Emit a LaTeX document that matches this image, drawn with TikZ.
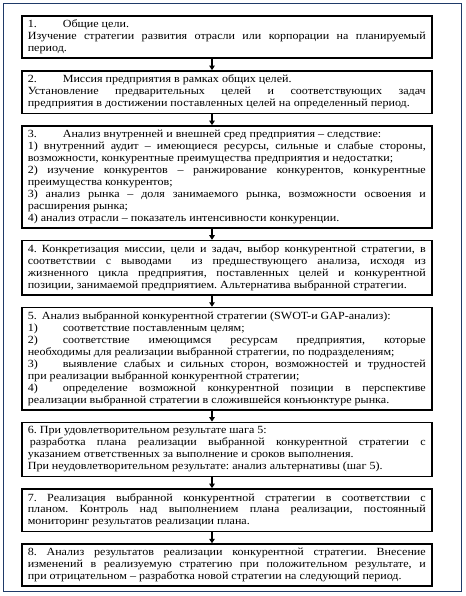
\documentclass[tikz,border=0pt]{standalone}
\usepackage{fontspec}
\setmainfont{Liberation Serif}[FakeStretch=1.1]
\usetikzlibrary{arrows.meta,positioning}
\definecolor{framecol}{HTML}{1F3A68}
\newcommand{\numtab}[1]{\makebox[35bp][l]{#1}}
\tikzset{
  stepbox/.style={draw=black, line width=1.6bp, text width=398bp, align=justify,
    inner xsep=6bp, inner ysep=4.2bp, font=\fontsize{11}{12}\selectfont},
  flowarrow/.style={draw=black, line width=1.2bp, -{Triangle[length=4.5bp,width=5.5bp]}},
  outerframe/.style={draw=framecol, line width=1.8bp}
}
\begin{document}
\frenchspacing
\hyphenpenalty=10000
\exhyphenpenalty=10000
\tolerance=9999
\emergencystretch=20bp
\begin{tikzpicture}[x=1bp,y=-1bp]
\useasboundingbox (0,0) rectangle (466,596);
\draw[outerframe] (3.5,3.5) rectangle (461.5,591.5);
\coordinate (ax) at (212,0);

\node[stepbox, anchor=north west] (b1) at (21,15) {%
\numtab{1.}Общие цели.\par
Изучение стратегии развития отрасли или корпорации на планируемый\linebreak
период.};

\node[stepbox, below=11bp of b1] (b2) {%
\numtab{2.}Миссия предприятия в рамках общих целей.\par
Установление предварительных целей и соответствующих задач\linebreak
предприятия в достижении поставленных целей на определенный период.};

\node[stepbox, below=11bp of b2] (b3) {%
\numtab{3.}Анализ внутренней и внешней сред предприятия – следствие:\par
1) внутренний аудит – имеющиеся ресурсы, сильные и слабые стороны,\linebreak
возможности, конкурентные преимущества предприятия и недостатки;\par
2) изучение конкурентов – ранжирование конкурентов, конкурентные\linebreak
преимущества конкурентов;\par
3) анализ рынка – доля занимаемого рынка, возможности освоения и\linebreak
расширения рынка;\par
4) анализ отрасли – показатель интенсивности конкуренции.};

\node[stepbox, below=11bp of b3] (b4) {%
4.\hspace{5bp}Конкретизация миссии, цели и задач, выбор конкурентной стратегии, в\linebreak
соответствии с выводами\ \ из предшествующего анализа, исходя из\linebreak
жизненного цикла предприятия, поставленных целей и конкурентной\linebreak
позиции, занимаемой предприятием. Альтернатива выбранной стратегии.};

\node[stepbox, below=11bp of b4] (b5) {%
5.\hspace{5bp}Анализ выбранной конкурентной стратегии (SWOT-и GAP-анализ):\par
\numtab{1)}соответствие поставленным целям;\par
\numtab{2)}соответствие имеющимся ресурсам предприятия, которые\linebreak
необходимы для реализации выбранной стратегии, по подразделениям;\par
\numtab{3)}выявление слабых и сильных сторон, возможностей и трудностей\linebreak
при реализации выбранной конкурентной стратегии;\par
\numtab{4)}определение возможной конкурентной позиции в перспективе\linebreak
реализации выбранной стратегии в сложившейся конъюнктуре рынка.};

\node[stepbox, below=11bp of b5] (b6) {%
6. При удовлетворительном результате шага 5:\par
\hspace{2bp}разработка плана реализации выбранной конкурентной стратегии с\linebreak
указанием ответственных за выполнение и сроков выполнения.\par
При неудовлетворительном результате: анализ альтернативы (шаг 5).};

\node[stepbox, below=11bp of b6] (b7) {%
7. Реализация выбранной конкурентной стратегии в соответствии с\linebreak
планом. Контроль над выполнением плана реализации, постоянный\linebreak
мониторинг результатов реализации плана.};

\node[stepbox, below=11bp of b7] (b8) {%
8. Анализ результатов реализации конкурентной стратегии. Внесение\linebreak
изменений в реализуемую стратегию при положительном результате, и\linebreak
при отрицательном – разработка новой стратегии на следующий период.};

\foreach \a/\b in {b1/b2,b2/b3,b3/b4,b4/b5,b5/b6,b6/b7,b7/b8}
  \draw[flowarrow] (\a.south -| ax) -- (\b.north -| ax);
\end{tikzpicture}
\end{document}
